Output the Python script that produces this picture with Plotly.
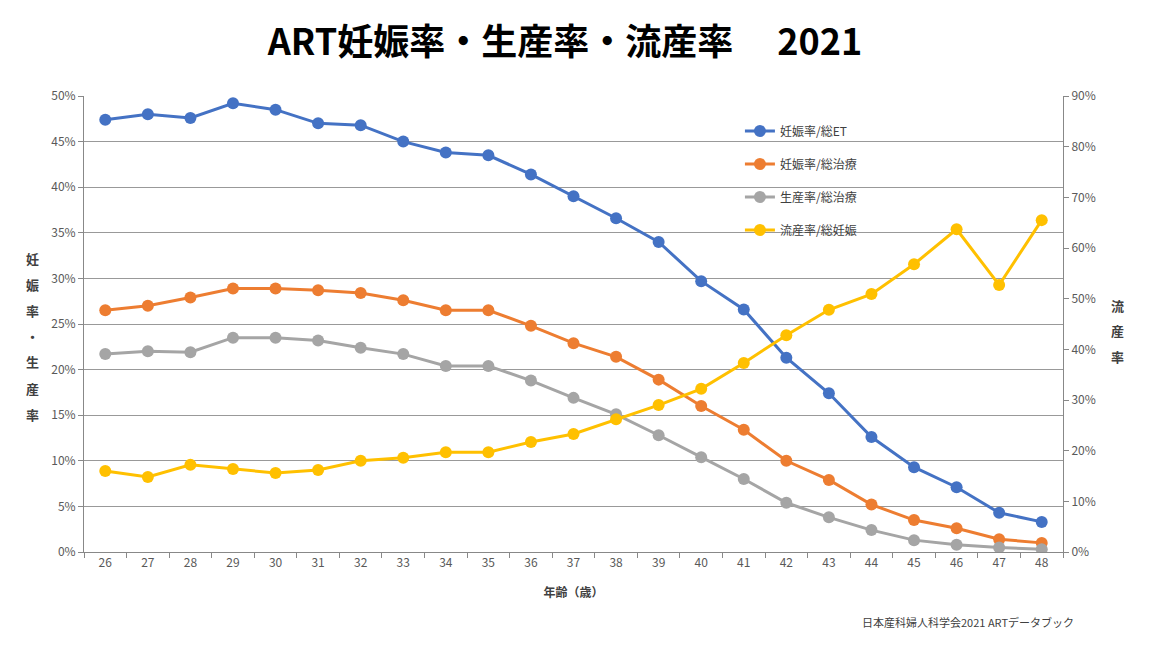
import plotly.graph_objects as go

ages = [str(a) for a in range(26, 49)]

preg_per_et = [47.4, 48.0, 47.6, 49.2, 48.5, 47.0, 46.8, 45.0, 43.8, 43.5, 41.4, 39.0,
               36.6, 34.0, 29.7, 26.6, 21.3, 17.4, 12.6, 9.3, 7.1, 4.3, 3.3]
preg_per_tx = [26.5, 27.0, 27.9, 28.9, 28.9, 28.7, 28.4, 27.6, 26.5, 26.5, 24.8, 22.9,
               21.4, 18.9, 16.0, 13.4, 10.0, 7.9, 5.2, 3.5, 2.6, 1.4, 1.0]
birth_per_tx = [21.7, 22.0, 21.9, 23.5, 23.5, 23.2, 22.4, 21.7, 20.4, 20.4, 18.8, 16.9,
                15.1, 12.8, 10.4, 8.0, 5.4, 3.8, 2.4, 1.3, 0.8, 0.5, 0.3]
misc_per_preg = [16.0, 14.8, 17.2, 16.4, 15.6, 16.2, 18.0, 18.6, 19.7, 19.7, 21.7, 23.3,
                 26.2, 29.0, 32.2, 37.3, 42.8, 47.8, 50.9, 56.8, 63.7, 52.7, 65.5]

names = ["妊娠率/総ET", "妊娠率/総治療", "生産率/総治療", "流産率/総妊娠"]
colors = ["#4472C4", "#ED7D31", "#A5A5A5", "#FFC000"]
left_title = "妊娠率・生産率"
right_title = "流産率"

FONT = "Noto Sans CJK JP"

fig = go.Figure()
series = [preg_per_et, preg_per_tx, birth_per_tx]
for i, s in enumerate(series):
    fig.add_trace(go.Scatter(x=ages, y=s, name=names[i], mode="lines+markers",
                             line=dict(color=colors[i], width=3),
                             marker=dict(color=colors[i], size=12),
                             legendgroup=str(i), yaxis="y"))
fig.add_trace(go.Scatter(x=ages, y=misc_per_preg, name=names[3], mode="lines+markers",
                         line=dict(color=colors[3], width=3),
                         marker=dict(color=colors[3], size=12),
                         legendgroup="3", yaxis="y2"))

tickfont = dict(family=FONT, size=12, color="#595959")

fig.update_layout(
    width=1133, height=641,
    margin=dict(l=76, r=78, t=88, b=97),
    paper_bgcolor="white", plot_bgcolor="white",
    font=dict(family=FONT),
    showlegend=True,
    legend=dict(x=0.67, y=0.955, xanchor="left", yanchor="top",
                bgcolor="rgba(0,0,0,0)", traceorder="grouped",
                tracegroupgap=14, font=dict(family=FONT, size=12, color="#404040")),
    title=dict(text="<b>ART妊娠率・生産率・流産率　 2021</b>", x=0.4916, xanchor="center",
               y=0.947, yanchor="middle",
               font=dict(family=FONT, size=36, color="#000000")),
    xaxis=dict(type="category", range=[-0.5, 22.5], showgrid=False, showline=True,
               linecolor="#888888", linewidth=1, ticks="outside", tickson="boundaries",
               ticklen=5, tickcolor="#888888", tickfont=tickfont,
               title=dict(text="<b>年齢（歳）</b>", font=dict(family=FONT, size=12, color="#404040"),
                          standoff=19)),
    yaxis=dict(range=[0, 50], dtick=5, ticksuffix="%", showgrid=True, gridcolor="#999999",
               gridwidth=1, showline=True, linecolor="#888888", ticks="outside",
               ticklen=5, tickcolor="#888888", tickfont=tickfont, zeroline=False),
    yaxis2=dict(range=[0, 90], dtick=10, ticksuffix="%", overlaying="y", side="right",
                showgrid=False, showline=True, linecolor="#888888", ticks="outside",
                ticklen=5, tickcolor="#888888", tickfont=tickfont, zeroline=False),
)

# vertical stacked axis titles (one character per line, Excel style)
plot_h = 456.0
for k, ch in enumerate(left_title):
    ypx = 258 + 26 * k  # page pixel of char centre
    fig.add_annotation(text=f"<b>{ch}</b>", xref="paper", yref="paper",
                       x=-0.053, y=(552 - ypx) / plot_h, xanchor="center", yanchor="middle",
                       showarrow=False, font=dict(family=FONT, size=13, color="#404040"))
for k, ch in enumerate(right_title):
    ypx = 305 + 25.5 * k
    fig.add_annotation(text=f"<b>{ch}</b>", xref="paper", yref="paper",
                       x=1.056, y=(552 - ypx) / plot_h, xanchor="center", yanchor="middle",
                       showarrow=False, font=dict(family=FONT, size=13, color="#404040"))

fig.add_annotation(text="日本産科婦人科学会2021 ARTデータブック", xref="paper", yref="paper",
                   x=0.903, y=-0.1535, xanchor="center", yanchor="middle", showarrow=False,
                   font=dict(family=FONT, size=11, color="#404040"))

fig.write_html("out.html")
